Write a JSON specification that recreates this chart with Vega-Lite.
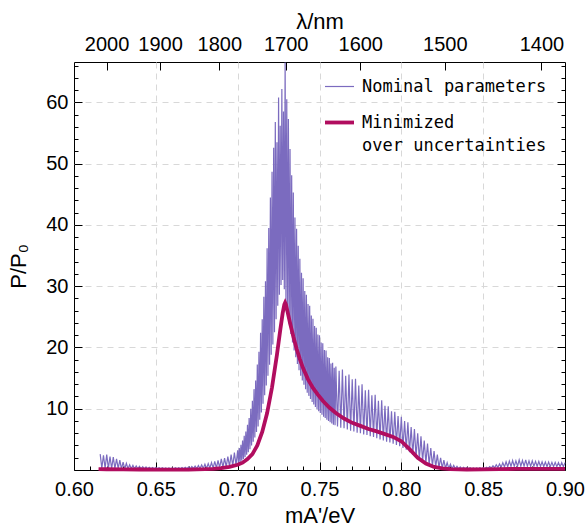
{
"$schema":"https://vega.github.io/schema/vega-lite/v6.json",
"width":491,"height":408,"autosize":"none",
"padding":{"left":74,"top":62,"right":20,"bottom":59},
"background":"white",
"config":{
"view":{"stroke":"black","strokeWidth":1},
"style":{"guide-label":{"lineHeight":23}},
"axis":{"labelFont":"Liberation Sans","labelFontSize":20,"labelColor":"black","titleFont":"Liberation Sans","titleFontSize":22,"titleFontWeight":"normal","titleColor":"black","tickColor":"black","tickWidth":1,"domain":false,"grid":false,"gridColor":"#d8d8d8","gridDash":[6,5],"labelFlush":false,"labelOverlap":false,"labelBound":false},
"legend":{"orient":"none","legendX":249,"legendY":9,"title":null,"symbolType":"stroke","symbolSize":841,"labelFont":"DejaVu Sans Mono","labelFontSize":17,"labelColor":"black","labelOffset":6,"labelLimit":500,"padding":0,"rowPadding":11}
},
"datasets":{
"nom":[
{"x":0.616,"y":2.6},{"x":0.617,"y":0.3},{"x":0.618,"y":2.4},{"x":0.619,"y":0.3},{"x":0.620,"y":2.5},{"x":0.621,"y":0.25},{"x":0.622,"y":2.2},{"x":0.623,"y":0.25},{"x":0.624,"y":2.1},{"x":0.625,"y":0.25},{"x":0.626,"y":1.8},{"x":0.627,"y":0.25},{"x":0.628,"y":1.6},{"x":0.629,"y":0.2},{"x":0.630,"y":1.3},{"x":0.631,"y":0.2},{"x":0.632,"y":1.1},{"x":0.633,"y":0.2},{"x":0.634,"y":0.85},{"x":0.635,"y":0.2},{"x":0.636,"y":0.75},{"x":0.637,"y":0.2},{"x":0.638,"y":0.65},{"x":0.639,"y":0.2},{"x":0.640,"y":0.6},{"x":0.641,"y":0.2},{"x":0.642,"y":0.55},{"x":0.643,"y":0.2},{"x":0.644,"y":0.5},{"x":0.645,"y":0.2},{"x":0.646,"y":0.45},{"x":0.647,"y":0.2},{"x":0.648,"y":0.42},{"x":0.649,"y":0.2},{"x":0.650,"y":0.4},{"x":0.651,"y":0.2},{"x":0.652,"y":0.38},{"x":0.653,"y":0.2},{"x":0.654,"y":0.36},{"x":0.655,"y":0.2},{"x":0.656,"y":0.35},{"x":0.657,"y":0.2},{"x":0.658,"y":0.35},{"x":0.659,"y":0.2},{"x":0.660,"y":0.35},{"x":0.661,"y":0.2},{"x":0.662,"y":0.36},{"x":0.663,"y":0.2},{"x":0.664,"y":0.38},{"x":0.665,"y":0.2},{"x":0.666,"y":0.4},{"x":0.667,"y":0.2},{"x":0.668,"y":0.44},{"x":0.669,"y":0.2},{"x":0.670,"y":0.5},{"x":0.671,"y":0.2},{"x":0.672,"y":0.56},{"x":0.673,"y":0.22},{"x":0.674,"y":0.64},{"x":0.675,"y":0.22},{"x":0.676,"y":0.74},{"x":0.677,"y":0.24},{"x":0.678,"y":0.84},{"x":0.679,"y":0.25},{"x":0.680,"y":0.96},{"x":0.681,"y":0.27},{"x":0.682,"y":1.06},{"x":0.683,"y":0.3},{"x":0.684,"y":1.2},{"x":0.685,"y":0.32},{"x":0.686,"y":1.4},{"x":0.687,"y":0.35},{"x":0.688,"y":1.55},{"x":0.689,"y":0.38},{"x":0.690,"y":1.8},{"x":0.691,"y":0.42},{"x":0.692,"y":1.95},{"x":0.693,"y":0.5},{"x":0.694,"y":2.2},{"x":0.695,"y":0.58},{"x":0.696,"y":2.5},{"x":0.697,"y":0.68},{"x":0.698,"y":2.85},{"x":0.699,"y":0.8},
{"x":0.7000,"y":3.2},{"x":0.7005,"y":1.1},{"x":0.7010,"y":3.6},{"x":0.7015,"y":1.3},{"x":0.7020,"y":4.1},{"x":0.7025,"y":1.5},{"x":0.7030,"y":4.8},{"x":0.7035,"y":1.8},{"x":0.7040,"y":5.6},{"x":0.7045,"y":2.1},{"x":0.7050,"y":6.3},{"x":0.7055,"y":2.5},{"x":0.7060,"y":7.4},{"x":0.7065,"y":2.9},{"x":0.7070,"y":8.5},{"x":0.7075,"y":3.4},{"x":0.7080,"y":10.0},{"x":0.7085,"y":4.0},{"x":0.7090,"y":11.3},{"x":0.7095,"y":4.6},{"x":0.7100,"y":13.2},{"x":0.7105,"y":5.3},{"x":0.7110,"y":14.6},{"x":0.7115,"y":6.2},{"x":0.7120,"y":17.2},{"x":0.7125,"y":7.1},{"x":0.7130,"y":19.3},{"x":0.7135,"y":8.2},{"x":0.7140,"y":22.4},{"x":0.7145,"y":9.4},{"x":0.7150,"y":24.6},{"x":0.7155,"y":10.8},{"x":0.7160,"y":28.3},{"x":0.7165,"y":12.2},{"x":0.7170,"y":30.8},{"x":0.7175,"y":13.8},{"x":0.7180,"y":36.2},{"x":0.7185,"y":15.4},{"x":0.7190,"y":39.5},{"x":0.7195,"y":17.2},{"x":0.7200,"y":44.5},{"x":0.7205,"y":18.8},{"x":0.7210,"y":48.7},{"x":0.7215,"y":20.5},{"x":0.7220,"y":52.6},{"x":0.7225,"y":22.5},{"x":0.7230,"y":56.8},{"x":0.7235,"y":24.6},{"x":0.7240,"y":53.5},{"x":0.7245,"y":26.8},{"x":0.7250,"y":60.8},{"x":0.7255,"y":28.6},{"x":0.7260,"y":56.2},{"x":0.7265,"y":30.2},{"x":0.7270,"y":62.2},{"x":0.7275,"y":31.0},{"x":0.7280,"y":58.5},{"x":0.7285,"y":29.5},{"x":0.7290,"y":66.5},{"x":0.7295,"y":27.4},{"x":0.7300,"y":60.5},{"x":0.7305,"y":25.5},{"x":0.7310,"y":57.3},{"x":0.7315,"y":23.8},{"x":0.7320,"y":52.4},{"x":0.7325,"y":22.2},{"x":0.7330,"y":48.1},{"x":0.7335,"y":20.8},{"x":0.7340,"y":45.3},{"x":0.7345,"y":19.5},{"x":0.7350,"y":41.2},{"x":0.7355,"y":18.4},{"x":0.7360,"y":39.4},{"x":0.7365,"y":17.3},{"x":0.7370,"y":36.6},{"x":0.7375,"y":16.3},{"x":0.7380,"y":34.5},{"x":0.7385,"y":15.4},{"x":0.7390,"y":32.2},{"x":0.7395,"y":14.6},{"x":0.7400,"y":31.3},{"x":0.7405,"y":13.9},{"x":0.7410,"y":29.2},{"x":0.7415,"y":13.2},{"x":0.7420,"y":28.6},{"x":0.7425,"y":12.6},{"x":0.7430,"y":27.1},{"x":0.7435,"y":12.1},{"x":0.7440,"y":26.8},{"x":0.7445,"y":11.6},{"x":0.7450,"y":25.2},{"x":0.7455,"y":11.1},{"x":0.7460,"y":24.7},{"x":0.7465,"y":10.7},{"x":0.7470,"y":23.5},{"x":0.7475,"y":10.3},{"x":0.7480,"y":23.2},{"x":0.7485,"y":9.9},{"x":0.7490,"y":22.1},{"x":0.7495,"y":9.6},{"x":0.7500,"y":22.0},{"x":0.7505,"y":9.3},{"x":0.7510,"y":20.8},{"x":0.7515,"y":9.0},{"x":0.7520,"y":20.7},{"x":0.7525,"y":8.7},{"x":0.7530,"y":19.6},{"x":0.7535,"y":8.5},{"x":0.7540,"y":19.5},{"x":0.7545,"y":8.2},{"x":0.7550,"y":18.4},{"x":0.7555,"y":8.0},{"x":0.7560,"y":18.3},{"x":0.7565,"y":7.8},{"x":0.7570,"y":17.4},{"x":0.7575,"y":7.6},{"x":0.7580,"y":17.5},{"x":0.7585,"y":7.4},{"x":0.7590,"y":16.7},{"x":0.7595,"y":7.3},{"x":0.7600,"y":16.9},
{"x":0.761,"y":7.1},{"x":0.762,"y":16.2},{"x":0.763,"y":6.9},{"x":0.764,"y":16.4},{"x":0.765,"y":6.8},{"x":0.766,"y":15.4},{"x":0.767,"y":6.6},{"x":0.768,"y":15.6},{"x":0.769,"y":6.4},{"x":0.770,"y":14.8},{"x":0.771,"y":6.3},{"x":0.772,"y":14.9},{"x":0.773,"y":6.1},{"x":0.774,"y":13.8},{"x":0.775,"y":6.0},{"x":0.776,"y":14.0},{"x":0.777,"y":5.8},{"x":0.778,"y":13.0},{"x":0.779,"y":5.7},{"x":0.780,"y":13.1},{"x":0.781,"y":5.5},{"x":0.782,"y":12.2},{"x":0.783,"y":5.4},{"x":0.784,"y":12.3},{"x":0.785,"y":5.2},{"x":0.786,"y":11.3},{"x":0.787,"y":5.0},{"x":0.788,"y":11.4},{"x":0.789,"y":4.8},{"x":0.790,"y":10.5},{"x":0.791,"y":4.6},{"x":0.792,"y":10.4},{"x":0.793,"y":4.5},{"x":0.794,"y":9.6},{"x":0.795,"y":4.3},{"x":0.796,"y":9.5},{"x":0.797,"y":4.1},{"x":0.798,"y":8.8},{"x":0.799,"y":3.9},{"x":0.800,"y":8.7},{"x":0.801,"y":3.6},{"x":0.802,"y":8.0},{"x":0.803,"y":3.3},{"x":0.804,"y":7.8},{"x":0.805,"y":2.9},{"x":0.806,"y":7.0},{"x":0.807,"y":2.5},{"x":0.808,"y":6.7},{"x":0.809,"y":2.1},{"x":0.810,"y":6.0},{"x":0.811,"y":1.7},{"x":0.812,"y":5.5},{"x":0.813,"y":1.4},{"x":0.814,"y":4.8},{"x":0.815,"y":1.1},{"x":0.816,"y":4.3},{"x":0.817,"y":0.85},{"x":0.818,"y":3.6},{"x":0.819,"y":0.65},{"x":0.820,"y":3.1},{"x":0.821,"y":0.5},{"x":0.822,"y":2.5},{"x":0.823,"y":0.4},{"x":0.824,"y":2.0},{"x":0.825,"y":0.32},{"x":0.826,"y":1.6},{"x":0.827,"y":0.28},{"x":0.828,"y":1.2},{"x":0.829,"y":0.25},{"x":0.830,"y":0.95},{"x":0.831,"y":0.22},{"x":0.832,"y":0.75},{"x":0.833,"y":0.2},{"x":0.834,"y":0.6},{"x":0.835,"y":0.2},{"x":0.836,"y":0.5},{"x":0.837,"y":0.2},{"x":0.838,"y":0.45},{"x":0.839,"y":0.2},{"x":0.840,"y":0.4},{"x":0.841,"y":0.2},{"x":0.842,"y":0.37},{"x":0.843,"y":0.2},{"x":0.844,"y":0.35},{"x":0.845,"y":0.2},{"x":0.846,"y":0.35},{"x":0.847,"y":0.2},{"x":0.848,"y":0.36},{"x":0.849,"y":0.2},{"x":0.850,"y":0.38},{"x":0.851,"y":0.22},{"x":0.852,"y":0.45},{"x":0.853,"y":0.25},{"x":0.854,"y":0.55},{"x":0.855,"y":0.3},{"x":0.856,"y":0.7},{"x":0.857,"y":0.35},{"x":0.858,"y":0.85},{"x":0.859,"y":0.4},{"x":0.860,"y":1.0},{"x":0.861,"y":0.45},{"x":0.862,"y":1.2},{"x":0.863,"y":0.5},{"x":0.864,"y":1.35},{"x":0.865,"y":0.55},{"x":0.866,"y":1.45},{"x":0.867,"y":0.6},{"x":0.868,"y":1.55},{"x":0.869,"y":0.6},{"x":0.870,"y":1.5},{"x":0.871,"y":0.62},{"x":0.872,"y":1.65},{"x":0.873,"y":0.62},{"x":0.874,"y":1.55},{"x":0.875,"y":0.62},{"x":0.876,"y":1.65},{"x":0.877,"y":0.6},{"x":0.878,"y":1.5},{"x":0.879,"y":0.6},{"x":0.880,"y":1.5},{"x":0.881,"y":0.6},{"x":0.882,"y":1.4},{"x":0.883,"y":0.58},{"x":0.884,"y":1.4},{"x":0.885,"y":0.58},{"x":0.886,"y":1.35},{"x":0.887,"y":0.56},{"x":0.888,"y":1.3},{"x":0.889,"y":0.55},{"x":0.890,"y":1.3},{"x":0.891,"y":0.55},{"x":0.892,"y":1.25},{"x":0.893,"y":0.55},{"x":0.894,"y":1.25},{"x":0.895,"y":0.54},{"x":0.896,"y":1.2},{"x":0.897,"y":0.54},{"x":0.898,"y":1.2},{"x":0.899,"y":0.54},{"x":0.900,"y":1.2}
],
"min":[
{"x":0.615,"y":0.15},{"x":0.62,"y":0.12},{"x":0.63,"y":0.1},{"x":0.64,"y":0.08},{"x":0.65,"y":0.06},{"x":0.66,"y":0.06},{"x":0.67,"y":0.07},{"x":0.675,"y":0.1},{"x":0.68,"y":0.13},{"x":0.685,"y":0.2},{"x":0.69,"y":0.3},{"x":0.695,"y":0.5},{"x":0.70,"y":0.85},{"x":0.703,"y":1.2},{"x":0.706,"y":1.8},{"x":0.709,"y":2.6},{"x":0.712,"y":4.0},{"x":0.715,"y":6.2},{"x":0.718,"y":9.3},{"x":0.721,"y":13.5},{"x":0.724,"y":18.8},{"x":0.726,"y":22.8},{"x":0.7275,"y":25.6},{"x":0.7285,"y":27.0},{"x":0.729,"y":27.3},{"x":0.7295,"y":27.0},{"x":0.7305,"y":25.8},{"x":0.732,"y":24.0},{"x":0.734,"y":21.8},{"x":0.736,"y":19.8},{"x":0.738,"y":18.1},{"x":0.740,"y":16.6},{"x":0.743,"y":14.8},{"x":0.746,"y":13.4},{"x":0.749,"y":12.3},{"x":0.752,"y":11.3},{"x":0.756,"y":10.2},{"x":0.76,"y":9.3},{"x":0.765,"y":8.4},{"x":0.77,"y":7.7},{"x":0.775,"y":7.2},{"x":0.78,"y":6.7},{"x":0.785,"y":6.3},{"x":0.79,"y":5.85},{"x":0.795,"y":5.4},{"x":0.80,"y":4.7},{"x":0.805,"y":3.4},{"x":0.81,"y":2.0},{"x":0.815,"y":1.05},{"x":0.82,"y":0.5},{"x":0.825,"y":0.25},{"x":0.83,"y":0.13},{"x":0.84,"y":0.08},{"x":0.85,"y":0.1},{"x":0.86,"y":0.14},{"x":0.87,"y":0.18},{"x":0.88,"y":0.18},{"x":0.89,"y":0.17},{"x":0.90,"y":0.17}
]
},
"layer":[
{"data":{"name":"nom"},"mark":{"type":"line"},
"encoding":{
"x":{"field":"x","type":"quantitative","scale":{"domain":[0.6,0.9],"nice":false,"zero":false},"axis":{"orient":"bottom","values":[0.6,0.65,0.7,0.75,0.8,0.85,0.9],"format":".2f","tickSize":-8,"labelPadding":17,"title":"mA'/eV","titlePadding":6}},
"y":{"field":"y","type":"quantitative","scale":{"domain":[0,66.6],"nice":false},"axis":{"orient":"left","values":[10,20,30,40,50,60],"tickSize":-8,"labelPadding":14,"grid":true,"title":"P/P₀","titlePadding":15}},
"color":{"datum":"nom","type":"ordinal","scale":{"domain":["nom","min"],"range":["#7b6bbf","#b10d5f"]},"legend":{"labelExpr":"datum.value == 'min' ? ['Minimized', '\u00a0over uncertainties'] : 'Nominal parameters'"}},
"strokeWidth":{"datum":"nom","type":"ordinal","scale":{"domain":["nom","min"],"range":[1.2,3.8]},"legend":{"labelExpr":"datum.value == 'min' ? ['Minimized', '\u00a0over uncertainties'] : 'Nominal parameters'"}}
}},
{"data":{"name":"min"},"mark":{"type":"line"},
"encoding":{
"x":{"field":"x","type":"quantitative","scale":{"domain":[0.6,0.9],"nice":false,"zero":false},"axis":{"orient":"bottom","values":[0.61,0.62,0.63,0.64,0.66,0.67,0.68,0.69,0.71,0.72,0.73,0.74,0.76,0.77,0.78,0.79,0.81,0.82,0.83,0.84,0.86,0.87,0.88,0.89],"tickSize":-4,"labels":false,"title":null}},
"y":{"field":"y","type":"quantitative","scale":{"domain":[0,66.6],"nice":false},"axis":{"orient":"left","values":[2,4,6,8,12,14,16,18,22,24,26,28,32,34,36,38,42,44,46,48,52,54,56,58,62,64,66],"tickSize":-4,"labels":false,"title":null}},
"color":{"datum":"min","type":"ordinal"},
"strokeWidth":{"datum":"min","type":"ordinal"}
}},
{"data":{"name":"min"},"mark":{"type":"line","opacity":0},
"encoding":{
"x":{"field":"x","type":"quantitative","scale":{"domain":[0.6,0.9],"nice":false,"zero":false},"axis":{"orient":"top","values":[0.61992,0.65255,0.6888,0.72932,0.7749,0.82656,0.8856],"labelExpr":"format(round(1239.84/datum.value/10)*10,'d')","tickSize":-8,"labelPadding":16,"title":"λ/nm","titlePadding":1}},
"y":{"field":"y","type":"quantitative","scale":{"domain":[0,66.6],"nice":false},"axis":{"orient":"right","values":[10,20,30,40,50,60],"tickSize":-8,"labels":false,"title":null}}
}},
{"data":{"name":"min"},"mark":{"type":"line","opacity":0},
"encoding":{
"x":{"field":"x","type":"quantitative","scale":{"domain":[0.6,0.9],"nice":false,"zero":false},"axis":{"orient":"bottom","values":[0.65,0.7,0.75,0.8,0.85],"ticks":false,"labels":false,"grid":true,"title":null}},
"y":{"field":"y","type":"quantitative","scale":{"domain":[0,66.6],"nice":false},"axis":{"orient":"right","values":[2,4,6,8,12,14,16,18,22,24,26,28,32,34,36,38,42,44,46,48,52,54,56,58,62,64,66],"tickSize":-4,"labels":false,"title":null}}
}}
],
"resolve":{"scale":{"x":"independent","y":"independent"}}
}
